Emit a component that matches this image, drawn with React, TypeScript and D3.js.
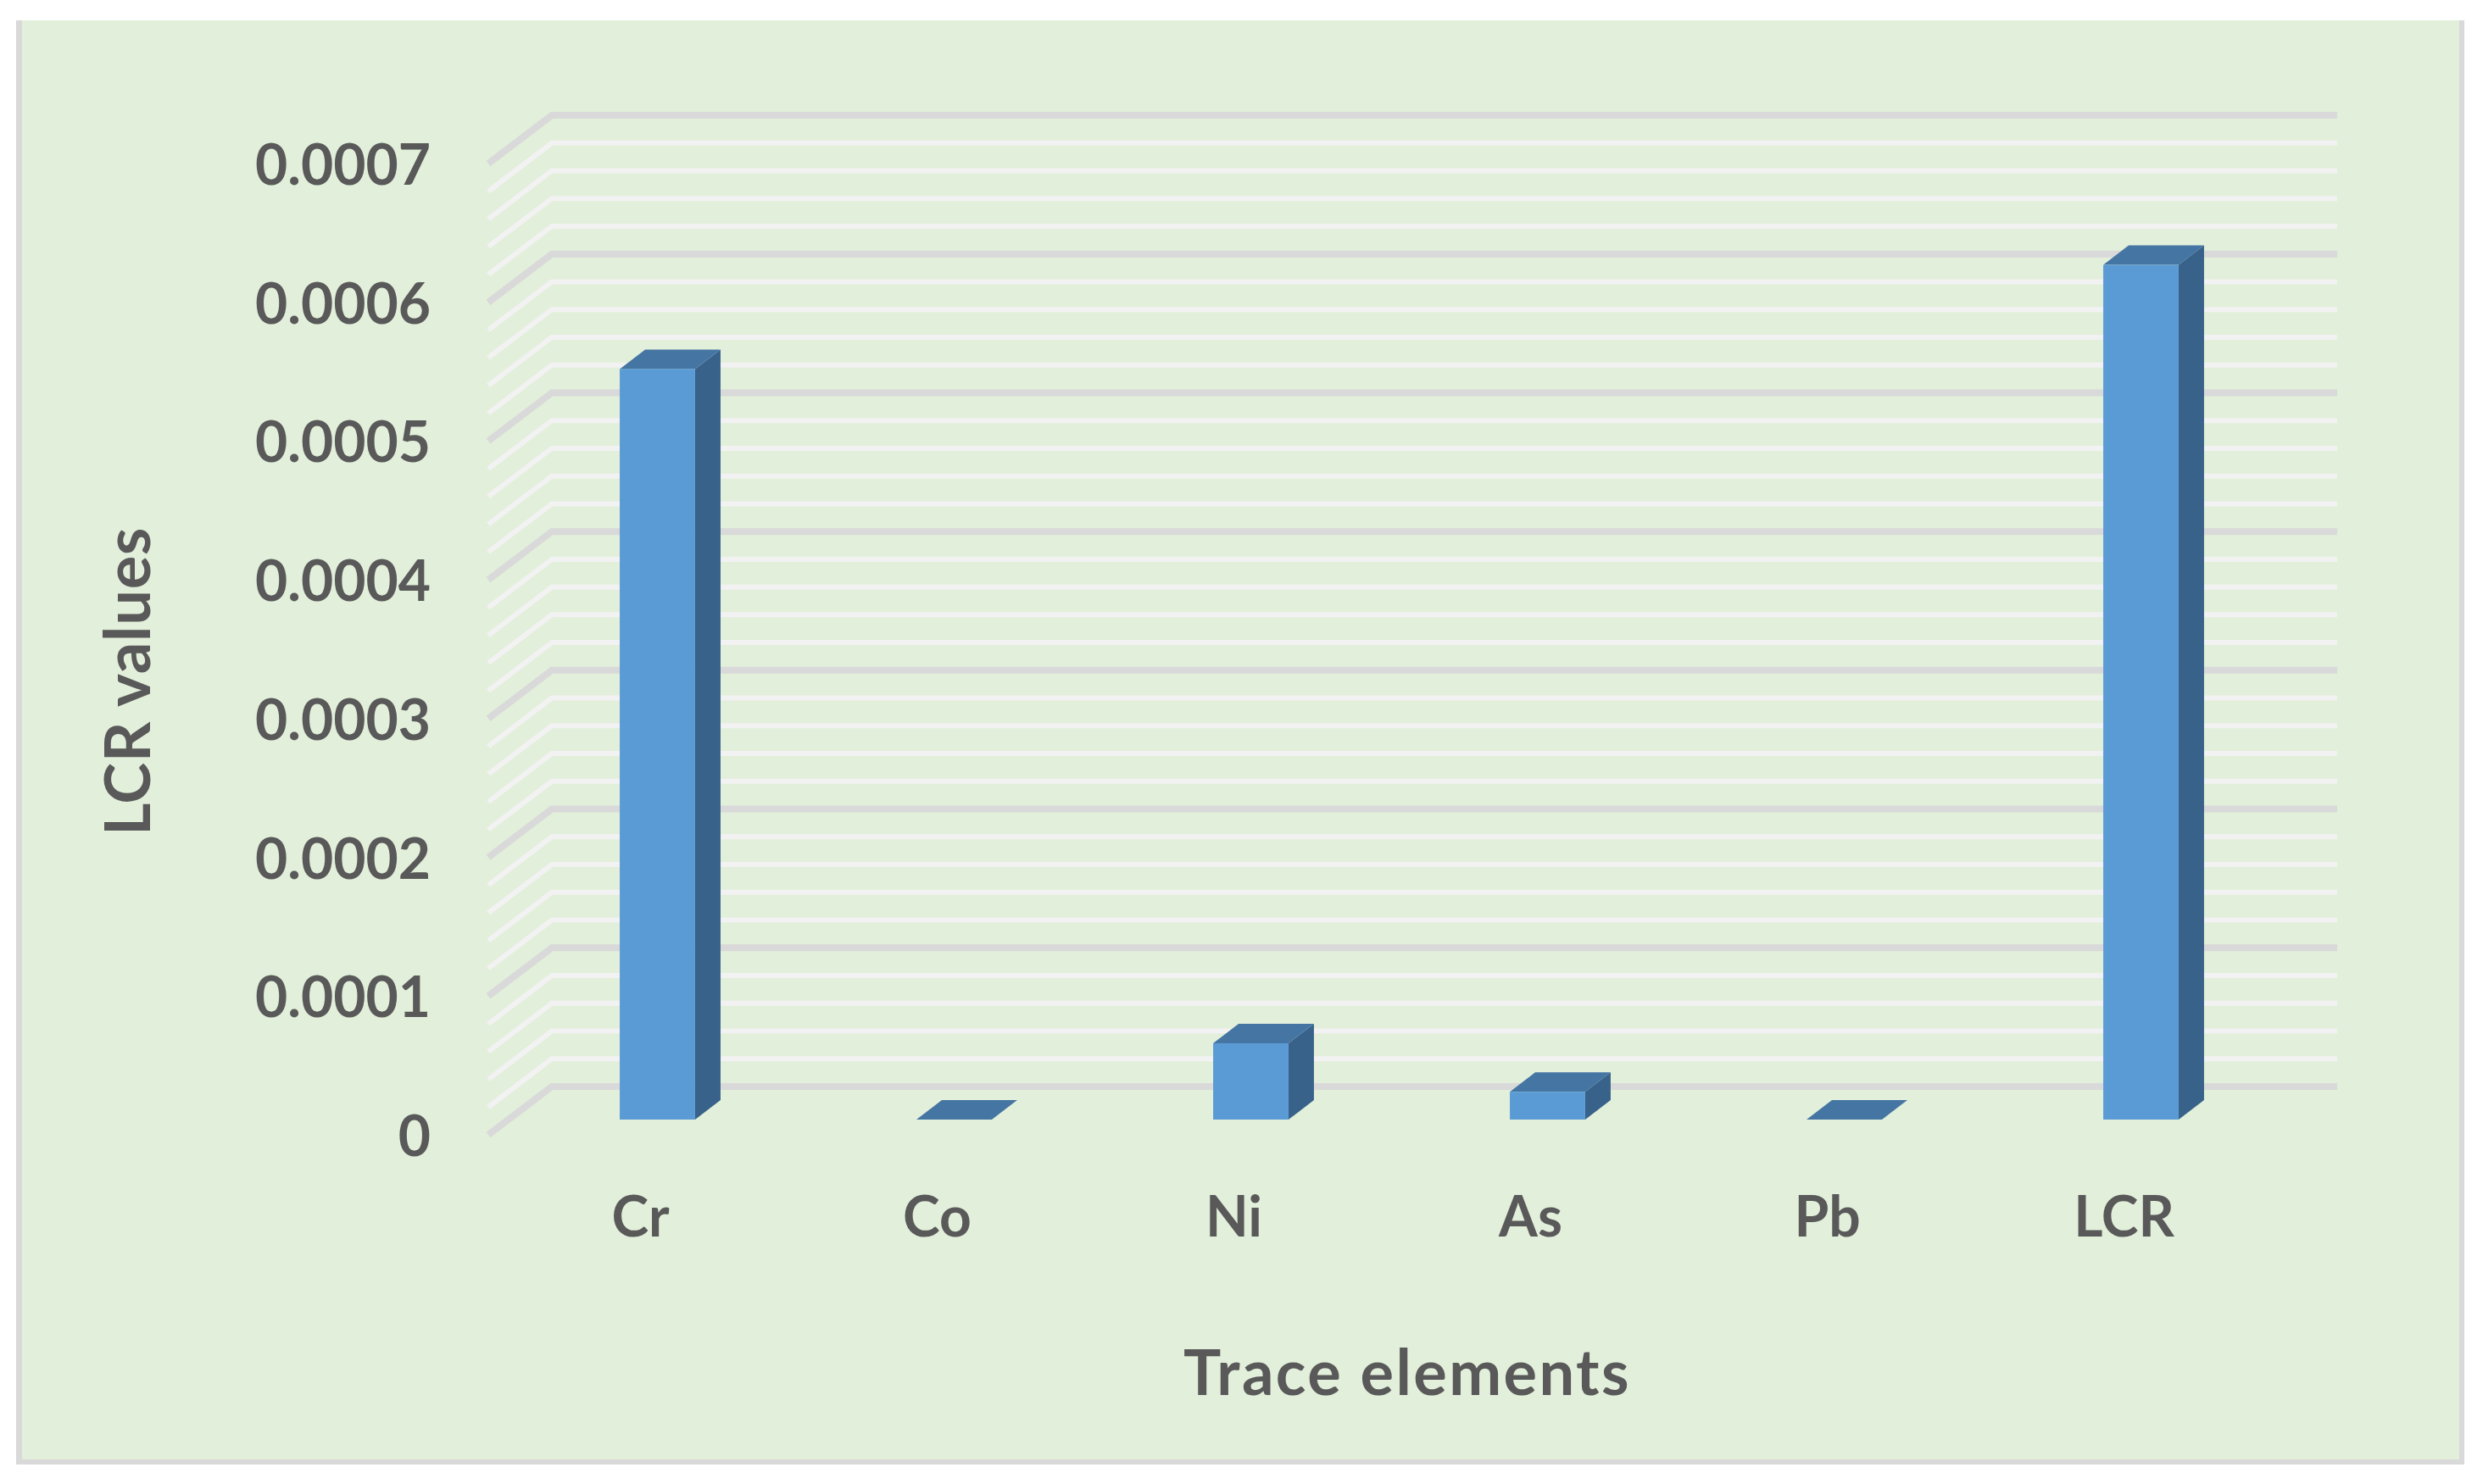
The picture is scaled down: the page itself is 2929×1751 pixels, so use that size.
import React from 'react';
import * as d3 from 'd3';

const categories = ['Cr', 'Co', 'Ni', 'As', 'Pb', 'LCR'];
const lcrValues = [0.000541, 0, 0.000055, 0.00002, 0, 0.000616];
const majorTicks = [0, 0.0001, 0.0002, 0.0003, 0.0004, 0.0005, 0.0006, 0.0007];
const tickLabels = ['0', '0.0001', '0.0002', '0.0003', '0.0004', '0.0005', '0.0006', '0.0007'];
const minorTicks = d3.range(0, 35).map(i => (i + 1) * 0.00002).filter(v => Math.round(v * 100000) % 10 !== 0);

const font = 'Lato, sans-serif';
const textColor = '#595959';

// the 3D box: the wall sits behind the floor front edge
const wall = { left: 651, right: 2757, top: 136, bottom: 1282 };
const floorDepth = { x: -75, y: 57 };
const barDepth = { x: 30, y: -23 };
const barBase = 1321;

const App = () => {
  const yWall = d3.scaleLinear().domain([0, 0.0007]).range([wall.bottom, wall.top]);
  const barHeight = d3.scaleLinear().domain([0, 0.0001]).range([0, 163.7]);

  const xBand = d3
    .scaleBand()
    .domain(categories)
    .range([600.5, 2700.5])
    .paddingInner(0.746)
    .paddingOuter(0.373);

  const gridPath = d3.line<[number, number]>();

  const gridLine = (v: number) => {
    const y = yWall(v);
    return gridPath([
      [wall.left + floorDepth.x, y + floorDepth.y],
      [wall.left, y],
      [wall.right, y]
    ])!;
  };

  const poly = (pts: [number, number][]) => d3.line()(pts)! + 'Z';

  const bars = categories.map((c, i) => {
    const x0 = xBand(c)!;
    const x1 = x0 + xBand.bandwidth();
    const yTop = barBase - barHeight(lcrValues[i]);
    const { x: dx, y: dy } = barDepth;
    return (
      <g key={c}>
        {lcrValues[i] > 0 && (
          <path
            d={poly([[x1, yTop], [x1 + dx, yTop + dy], [x1 + dx, barBase + dy], [x1, barBase]])}
            fill="#38628a"
          />
        )}
        <path
          d={poly([[x0, yTop], [x0 + dx, yTop + dy], [x1 + dx, yTop + dy], [x1, yTop]])}
          fill="#4575a3"
        />
        {lcrValues[i] > 0 && (
          <rect x={x0} y={yTop} width={x1 - x0} height={barBase - yTop} fill="#5b9bd5" />
        )}
      </g>
    );
  });

  return (
    <svg
      width={2929}
      height={1751}
      style={{ position: 'absolute', left: 0, top: 0, background: '#fff' }}
    >
      <rect x={19} y={24} width={2888} height={1704} fill="#d9d9d9" />
      <rect x={26} y={24} width={2875} height={1698} fill="#e2efda" />

      <g fill="none" strokeLinejoin="miter">
        {minorTicks.map(v => (
          <path key={v} d={gridLine(v)} stroke="#f2f2f2" strokeWidth={6} />
        ))}
        {majorTicks.map(v => (
          <path key={v} d={gridLine(v)} stroke="#d9d9d9" strokeWidth={8} />
        ))}
      </g>

      <g>{bars}</g>

      <g fontFamily={font} fontWeight={700} fontSize={66} fill={textColor}>
        {majorTicks.map((v, i) => (
          <text key={v} x={508} y={yWall(v) + floorDepth.y + 25} textAnchor="end">
            {tickLabels[i]}
          </text>
        ))}
        {categories.map(c => (
          <text
            key={c}
            x={xBand(c)! + xBand.bandwidth() / 2 - 20}
            y={1459}
            textAnchor="middle"
          >
            {c}
          </text>
        ))}
      </g>

      <text
        x={1660}
        y={1646}
        textAnchor="middle"
        fontFamily={font}
        fontWeight={700}
        fontSize={74}
        letterSpacing={2.4}
        fill={textColor}
      >
        Trace elements
      </text>
      <text
        transform="translate(177, 804) rotate(-90)"
        textAnchor="middle"
        fontFamily={font}
        fontWeight={700}
        fontSize={74}
        letterSpacing={0.7}
        fill={textColor}
      >
        LCR values
      </text>
    </svg>
  );
};

export default App;
